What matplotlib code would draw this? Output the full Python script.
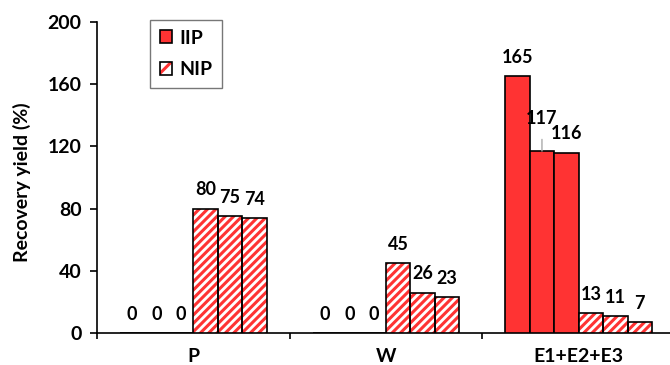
import matplotlib
matplotlib.use("Agg")
from matplotlib import pyplot as plt
from matplotlib.patches import Patch
from matplotlib.legend_handler import HandlerTuple
import numpy as np

plt.rcParams['font.family'] = ['Lato', 'DejaVu Sans']
plt.rcParams['font.weight'] = 'bold'
plt.rcParams['hatch.linewidth'] = 2.2

categories = ['P', 'W', 'E1+E2+E3']
iip = [[0, 0, 0], [0, 0, 0], [165, 117, 116]]
nip = [[80, 75, 74], [45, 26, 23], [13, 11, 7]]

red = '#ff3333'
w = 0.127

fig = plt.figure(figsize=(6.7, 3.65), dpi=100)
ax = fig.add_axes([97 / 670, 1 - 333 / 365, 578 / 670, 311 / 365])

for i in range(len(categories)):
    vals = iip[i] + nip[i]
    for j, v in enumerate(vals):
        x = i + (j - 2.5) * w
        if j < 3:
            ax.bar(x, v, w, color=red, edgecolor='black', linewidth=1.2, zorder=3)
        else:
            ax.bar(x, v, w, color='white', edgecolor=red, hatch='////', linewidth=0, zorder=3)
            ax.bar(x, v, w, fill=False, edgecolor='black', linewidth=1.2, zorder=4)
        if i == 2 and j == 1:
            # label lifted above its neighbour, with a leader line
            ax.annotate(str(v), xy=(x, v), xytext=(x, v + 21), ha='center', va='center',
                        fontsize=13, fontweight='bold',
                        arrowprops=dict(arrowstyle='-', color='#aaaaaa', lw=1, shrinkA=7, shrinkB=0))
        else:
            ax.text(x, v + 12, str(v), ha='center', va='center', fontsize=13, fontweight='bold')

ax.set_xlim(-0.5, 2.5)
ax.set_ylim(0, 200)
ax.set_yticks([0, 40, 80, 120, 160, 200])
ax.set_xticks([-0.5, 0.5, 1.5, 2.5])
ax.set_xticklabels([])
ax.set_xticks([0, 1, 2], minor=True)
ax.set_xticklabels(categories, minor=True)
ax.tick_params(axis='x', which='minor', length=0, pad=11, labelsize=14)
ax.tick_params(axis='x', which='major', direction='out', length=4, width=1.2)
ax.tick_params(axis='y', direction='out', length=5, width=1.2, labelsize=14, pad=6)
for t in ax.get_yticklabels() + ax.get_xticklabels(minor=True):
    t.set_fontweight('bold')
ax.spines['top'].set_visible(False)
ax.spines['right'].set_visible(False)
ax.spines['left'].set_linewidth(1.2)
ax.spines['bottom'].set_linewidth(1.2)
ax.set_ylabel('Recovery yield (%)', fontsize=14, fontweight='bold')
ax.yaxis.set_label_coords(22 / 670, 0.5, transform=fig.transFigure)
ax.yaxis.label.set_va('center')

h_iip = Patch(facecolor=red, edgecolor='black', linewidth=1.2)
h_nip = (Patch(facecolor='white', edgecolor=red, hatch='/', linewidth=0),
         Patch(facecolor='none', edgecolor='black', linewidth=1.2))
leg = ax.legend([h_iip, h_nip], ['IIP', 'NIP'], handler_map={tuple: HandlerTuple(ndivide=1, pad=0)},
                loc='upper left', bbox_to_anchor=(150 / 670, 1 - 20 / 365),
                bbox_transform=fig.transFigure, borderaxespad=0, frameon=True, fancybox=False,
                handlelength=0.65, handleheight=0.65, handletextpad=0.35,
                labelspacing=0.75, borderpad=0.5, prop={'size': 14, 'weight': 'bold'})
leg.get_frame().set_edgecolor('#555555')
leg.get_frame().set_linewidth(1.0)

fig.savefig('out.png', dpi=100)
